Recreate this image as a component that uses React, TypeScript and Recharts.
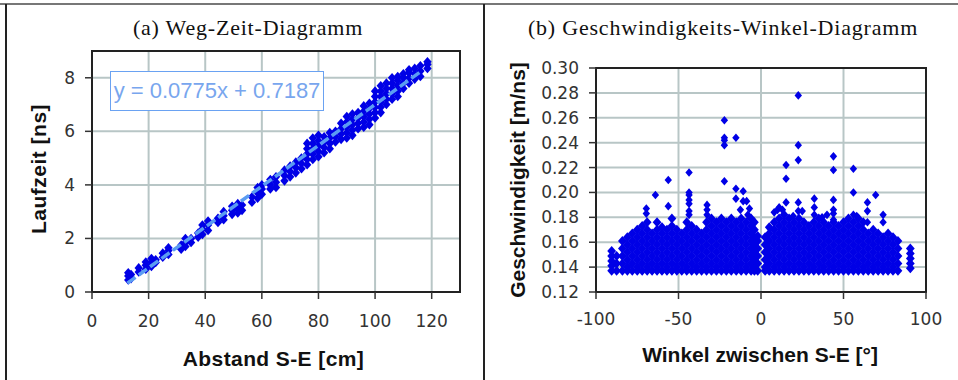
import React from 'react';
import { ScatterChart, Scatter, XAxis, YAxis, CartesianGrid, ReferenceArea } from 'recharts';

// ---------- Panel (a): Weg-Zeit-Diagramm ----------
const distanceTicks = [0, 20, 40, 60, 80, 100, 120];
const timeTicks = [0, 2, 4, 6, 8];

// [Abstand S-E (cm), Laufzeiten (ns)]
const distanceColumns: [number, number[]][] = [
  [12.8, [0.45, 0.6, 0.72]],
  [13.8, [0.5, 0.65]],
  [16.5, [0.75, 0.9]],
  [19, [0.85, 1.0, 1.12]],
  [21, [0.95, 1.1, 1.25]],
  [22.5, [1.1, 1.2]],
  [25, [1.3, 1.45]],
  [27, [1.4, 1.55, 1.65]],
  [31.5, [1.6, 1.75]],
  [33, [1.7, 1.85, 2.0]],
  [35, [1.85, 2.0]],
  [37.5, [2.05, 2.2]],
  [39, [2.15, 2.35, 2.5]],
  [41, [2.3, 2.5, 2.65]],
  [44.5, [2.6, 2.75]],
  [46.5, [2.7, 2.85, 3.0]],
  [49.5, [2.9, 3.05, 3.2]],
  [51.5, [2.95, 3.1, 3.3]],
  [53, [3.05, 3.25]],
  [56.5, [3.35, 3.55]],
  [58.5, [3.5, 3.7, 3.9]],
  [60, [3.65, 3.85, 4.0]],
  [63, [3.85, 4.0, 4.2]],
  [65, [3.9, 4.1, 4.3]],
  [68, [4.15, 4.35, 4.55]],
  [70, [4.3, 4.5, 4.7]],
  [72, [4.45, 4.65, 4.85]],
  [74, [4.6, 4.8, 5.0]],
  [76, [4.75, 4.95, 5.15, 5.35, 5.55]],
  [78, [4.95, 5.15, 5.35, 5.55, 5.75]],
  [80, [5.05, 5.25, 5.45, 5.65, 5.85]],
  [82, [5.2, 5.4, 5.6, 5.8]],
  [84, [5.35, 5.55, 5.75, 5.95]],
  [86, [5.6, 5.8, 6.0]],
  [88, [5.7, 5.9, 6.1, 6.3]],
  [90, [5.75, 5.95, 6.15, 6.35, 6.55]],
  [92, [5.85, 6.05, 6.25, 6.45, 6.65]],
  [94, [6.1, 6.3, 6.5, 6.7]],
  [96, [6.15, 6.35, 6.55, 6.75, 6.95]],
  [98, [6.25, 6.45, 6.65, 6.85, 7.05]],
  [100, [6.5, 6.7, 6.9, 7.1, 7.3, 7.5]],
  [102, [6.7, 6.9, 7.1, 7.3, 7.5, 7.7]],
  [104, [7.0, 7.2, 7.4, 7.6, 7.8]],
  [106, [7.2, 7.4, 7.6, 7.8, 8.0]],
  [108, [7.3, 7.5, 7.7, 7.9, 8.05]],
  [110, [7.6, 7.8, 8.0, 8.15]],
  [112, [7.8, 8.0, 8.2, 8.3]],
  [114, [7.95, 8.15, 8.35]],
  [116, [8.05, 8.25, 8.45]],
  [118.5, [8.35, 8.5, 8.6]],
];

// trend line end points as drawn
const trendLine = [
  { x: 12.5, y: 0.33 },
  { x: 116, y: 8.22 },
];
const equationText = 'y = 0.0775x + 0.7187';

// ---------- Panel (b): Geschwindigkeits-Winkel-Diagramm ----------
const angleTicks = [-100, -50, 0, 50, 100];
const speedTicks = [0.12, 0.14, 0.16, 0.18, 0.2, 0.22, 0.24, 0.26, 0.28, 0.3];

// [Winkel (°), Geschwindigkeiten (m/ns)]
const angleColumns: [number, number[]][] = [
  [-90.5, [0.137, 0.141, 0.145, 0.149, 0.153]],
  [-87.5, [0.137, 0.143, 0.149]],
  [-84, [0.137, 0.143, 0.149, 0.155, 0.161]],
  [-81, [0.137, 0.14, 0.146, 0.152, 0.158, 0.164]],
  [-78, [0.137, 0.143, 0.149, 0.155, 0.161, 0.167]],
  [-75, [0.137, 0.14, 0.146, 0.152, 0.158, 0.164, 0.17]],
  [-72, [0.137, 0.143, 0.149, 0.155, 0.161, 0.167, 0.173]],
  [-69, [0.137, 0.14, 0.146, 0.152, 0.158, 0.164, 0.17, 0.176]],
  [-66, [0.137, 0.143, 0.149, 0.155, 0.161, 0.167]],
  [-63, [0.137, 0.14, 0.146, 0.152, 0.158, 0.164, 0.17, 0.176]],
  [-60, [0.137, 0.143, 0.149, 0.155, 0.161, 0.167, 0.172]],
  [-57, [0.137, 0.14, 0.146, 0.152, 0.158, 0.164, 0.17]],
  [-54, [0.137, 0.143, 0.149, 0.155, 0.161, 0.167, 0.173, 0.179]],
  [-51, [0.137, 0.14, 0.146, 0.152, 0.158, 0.164, 0.17]],
  [-48, [0.137, 0.143, 0.149, 0.155, 0.161, 0.167]],
  [-45, [0.137, 0.14, 0.146, 0.152, 0.158, 0.164, 0.17, 0.176]],
  [-42, [0.137, 0.143, 0.149, 0.155, 0.161, 0.167, 0.173]],
  [-39, [0.137, 0.14, 0.146, 0.152, 0.158, 0.164, 0.17]],
  [-36, [0.137, 0.143, 0.149, 0.155, 0.161, 0.167]],
  [-33, [0.137, 0.14, 0.146, 0.152, 0.158, 0.164, 0.17, 0.176]],
  [-30, [0.137, 0.143, 0.149, 0.155, 0.161, 0.167, 0.173, 0.179]],
  [-27, [0.137, 0.14, 0.146, 0.152, 0.158, 0.164, 0.17, 0.176]],
  [-24, [0.137, 0.143, 0.149, 0.155, 0.161, 0.167, 0.173, 0.179]],
  [-21, [0.137, 0.14, 0.146, 0.152, 0.158, 0.164, 0.17, 0.176]],
  [-18, [0.137, 0.143, 0.149, 0.155, 0.161, 0.167, 0.173, 0.179]],
  [-15, [0.137, 0.14, 0.146, 0.152, 0.158, 0.164, 0.17, 0.176]],
  [-12, [0.137, 0.143, 0.149, 0.155, 0.161, 0.167, 0.173, 0.179]],
  [-9, [0.137, 0.14, 0.146, 0.152, 0.158, 0.164, 0.17, 0.176]],
  [-6, [0.137, 0.143, 0.149, 0.155, 0.161, 0.167, 0.173, 0.179]],
  [-4, [0.137, 0.14, 0.146, 0.152, 0.158, 0.164, 0.17, 0.176]],
  [-2, [0.137, 0.143, 0.149, 0.155, 0.161, 0.165]],
  [2.5, [0.137, 0.14, 0.146, 0.152, 0.158, 0.164]],
  [5, [0.137, 0.143, 0.149, 0.155, 0.161, 0.167, 0.172]],
  [8, [0.137, 0.14, 0.146, 0.152, 0.158, 0.164, 0.17, 0.176]],
  [11, [0.137, 0.143, 0.149, 0.155, 0.161, 0.167, 0.173, 0.179]],
  [14, [0.137, 0.14, 0.146, 0.152, 0.158, 0.164, 0.17, 0.176, 0.182]],
  [17, [0.137, 0.143, 0.149, 0.155, 0.161, 0.167, 0.173, 0.179]],
  [20, [0.137, 0.14, 0.146, 0.152, 0.158, 0.164, 0.17, 0.176]],
  [23, [0.137, 0.143, 0.149, 0.155, 0.161, 0.167, 0.173, 0.179]],
  [26, [0.137, 0.14, 0.146, 0.152, 0.158, 0.164, 0.17, 0.176]],
  [29, [0.137, 0.143, 0.149, 0.155, 0.161, 0.167, 0.173]],
  [32, [0.137, 0.14, 0.146, 0.152, 0.158, 0.164, 0.17, 0.176]],
  [35, [0.137, 0.143, 0.149, 0.155, 0.161, 0.167, 0.173, 0.179]],
  [38, [0.137, 0.14, 0.146, 0.152, 0.158, 0.164, 0.17, 0.176]],
  [41, [0.137, 0.143, 0.149, 0.155, 0.161, 0.167, 0.173]],
  [44, [0.137, 0.14, 0.146, 0.152, 0.158, 0.164, 0.17, 0.176]],
  [47, [0.137, 0.143, 0.149, 0.155, 0.161, 0.167, 0.173]],
  [50, [0.137, 0.14, 0.146, 0.152, 0.158, 0.164, 0.17, 0.176]],
  [53, [0.137, 0.143, 0.149, 0.155, 0.161, 0.167, 0.173, 0.179]],
  [56, [0.137, 0.14, 0.146, 0.152, 0.158, 0.164, 0.17, 0.176]],
  [59, [0.137, 0.143, 0.149, 0.155, 0.161, 0.167, 0.173, 0.179]],
  [62, [0.137, 0.14, 0.146, 0.152, 0.158, 0.164, 0.17, 0.176]],
  [65, [0.137, 0.143, 0.149, 0.155, 0.161, 0.167]],
  [68, [0.137, 0.14, 0.146, 0.152, 0.158, 0.164, 0.17]],
  [71, [0.137, 0.143, 0.149, 0.155, 0.161, 0.167]],
  [74, [0.137, 0.14, 0.146, 0.152, 0.158, 0.164]],
  [77, [0.137, 0.143, 0.149, 0.155, 0.161, 0.167]],
  [80, [0.137, 0.14, 0.146, 0.152, 0.158, 0.164]],
  [83, [0.137, 0.143, 0.149, 0.155, 0.161]],
  [90.5, [0.139, 0.143, 0.147, 0.151, 0.155]],
];

const angleOutliers: [number, number][] = [
  [-69.5, 0.183], [-69.5, 0.187],
  [-64, 0.198],
  [-56.2, 0.189], [-56.2, 0.21],
  [-43.6, 0.182], [-43.6, 0.185], [-43.6, 0.191], [-43.6, 0.194], [-43.6, 0.198], [-43.6, 0.2], [-43.6, 0.216],
  [-32.7, 0.182], [-32.7, 0.186], [-32.7, 0.19],
  [-22.2, 0.209], [-22.2, 0.238], [-22.2, 0.242], [-22.2, 0.244], [-22.2, 0.258],
  [-15.2, 0.195], [-15.2, 0.203], [-15.2, 0.244],
  [-12.5, 0.186], [-10.8, 0.193], [-10.8, 0.201],
  [-8.7, 0.193], [-8, 0.182], [-7, 0.187],
  [8, 0.184], [10, 0.186], [11, 0.188], [13, 0.186],
  [15.2, 0.192], [15.2, 0.211], [15.2, 0.222],
  [19.5, 0.181],
  [22.6, 0.185], [22.6, 0.192], [22.6, 0.226], [22.6, 0.238], [22.6, 0.278],
  [25, 0.185],
  [32.3, 0.182], [32.3, 0.188], [32.3, 0.195],
  [37, 0.18], [40, 0.182],
  [43.9, 0.178], [43.9, 0.183], [43.9, 0.186], [43.9, 0.194], [43.9, 0.218], [43.9, 0.229],
  [56, 0.182], [56, 0.2], [56, 0.219],
  [58, 0.181],
  [64.5, 0.176], [64.5, 0.185], [64.5, 0.192],
  [69.5, 0.198],
  [74, 0.176], [74, 0.182],
];

// ---------- derived point tables ----------
const distancePoints = distanceColumns.flatMap(([x, ys]) => ys.map((y) => ({ x, y })));
const angleDensePoints = angleColumns.flatMap(([x, ys]) => ys.map((y) => ({ x, y })));
const angleOutlierPoints = angleOutliers.map(([x, y]) => ({ x, y }));

const MARK = '#0000e6';
const makeDiamond = (hw: number, hh: number) => (p: any) => {
  const { cx, cy } = p;
  if (cx == null || cy == null) return <g />;
  return (
    <polygon
      points={`${cx},${cy - hh} ${cx + hw},${cy} ${cx},${cy + hh} ${cx - hw},${cy}`}
      fill={MARK}
    />
  );
};
const DenseDiamond = makeDiamond(4.4, 5);
const LeftDiamond = makeDiamond(4.2, 4.8);
const Diamond = makeDiamond(3.7, 4.3);
const NoMark = () => <g />;

const tickStyle = { fontSize: 17, fill: '#333', fontFamily: '"DejaVu Sans", Verdana, sans-serif' };
const axisLineStyle = { stroke: '#222', strokeWidth: 2 };
const tickLineStyle = { stroke: '#333', strokeWidth: 1.5 };
const GRID = '#b8c6c6';

const titleStyle: React.CSSProperties = {
  position: 'absolute',
  width: 400,
  textAlign: 'center',
  fontFamily: '"Liberation Serif", "Times New Roman", serif',
  fontSize: 22,
  lineHeight: '24px',
  letterSpacing: 0.8,
  color: '#111',
  whiteSpace: 'nowrap',
};
const axisTitleStyle: React.CSSProperties = {
  position: 'absolute',
  width: 300,
  height: 24,
  textAlign: 'center',
  fontFamily: '"Liberation Sans", Arial, sans-serif',
  fontWeight: 'bold',
  fontSize: 21,
  lineHeight: '24px',
  color: '#111',
  whiteSpace: 'nowrap',
};

export default function App() {
  return (
    <div
      style={{
        position: 'absolute',
        left: 0,
        top: 0,
        width: 958,
        height: 380,
        background: '#fff',
        overflow: 'hidden',
      }}
    >
      {/* frame */}
      <div style={{ position: 'absolute', left: 0, top: 2.5, width: 958, height: 2, background: '#777' }} />
      <div style={{ position: 'absolute', left: 5, top: 4, width: 1.5, height: 376, background: '#222' }} />
      <div style={{ position: 'absolute', left: 483, top: 4, width: 1.5, height: 376, background: '#222' }} />

      {/* panel (a) */}
      <div style={{ position: 'absolute', left: 0, top: 0 }}>
        <ScatterChart width={480} height={380} margin={{ top: 51, right: 20, bottom: 48, left: 32 }}>
          <CartesianGrid stroke={GRID} strokeWidth={2} />
          <XAxis
            type="number"
            dataKey="x"
            domain={[0, 130]}
            ticks={distanceTicks}
            interval={0}
            allowDataOverflow
            height={40}
            tickSize={7}
            tickMargin={16}
            tick={tickStyle}
            axisLine={axisLineStyle}
            tickLine={tickLineStyle}
          />
          <YAxis
            type="number"
            dataKey="y"
            domain={[0, 9]}
            ticks={timeTicks}
            interval={0}
            allowDataOverflow
            width={60}
            tickSize={7}
            tickMargin={10}
            tick={tickStyle}
            axisLine={axisLineStyle}
            tickLine={tickLineStyle}
          />
          <ReferenceArea x1={0} x2={130} y1={0} y2={9} fill="none" stroke="#222" strokeWidth={2} />
          <Scatter data={distancePoints} shape={LeftDiamond} isAnimationActive={false} />
          <Scatter
            data={trendLine}
            shape={NoMark}
            line={{ stroke: '#5b9cf2', strokeWidth: 3.5, strokeDasharray: '10 4' }}
            isAnimationActive={false}
          />
        </ScatterChart>
      </div>

      {/* panel (b) */}
      <div style={{ position: 'absolute', left: 480, top: 0 }}>
        <ScatterChart width={478} height={380} margin={{ top: 68, right: 32, bottom: 48, left: 56 }}>
          <CartesianGrid stroke={GRID} strokeWidth={2} />
          <XAxis
            type="number"
            dataKey="x"
            domain={[-100, 100]}
            ticks={angleTicks}
            interval={0}
            allowDataOverflow
            height={40}
            tickSize={7}
            tickMargin={14}
            tick={tickStyle}
            axisLine={axisLineStyle}
            tickLine={tickLineStyle}
          />
          <YAxis
            type="number"
            dataKey="y"
            domain={[0.12, 0.3]}
            ticks={speedTicks}
            interval={0}
            allowDataOverflow
            width={60}
            tickSize={7}
            tickMargin={10}
            tick={tickStyle}
            tickFormatter={(v: number) => v.toFixed(2)}
            axisLine={axisLineStyle}
            tickLine={tickLineStyle}
          />
          <ReferenceArea x1={-100} x2={100} y1={0.12} y2={0.3} fill="none" stroke="#222" strokeWidth={2} />
          <Scatter data={angleDensePoints} shape={DenseDiamond} isAnimationActive={false} />
          <Scatter data={angleOutlierPoints} shape={Diamond} isAnimationActive={false} />
        </ScatterChart>
      </div>

      {/* titles */}
      <div style={{ ...titleStyle, left: 48, top: 15.5 }}>(a) Weg-Zeit-Diagramm</div>
      <div style={{ ...titleStyle, left: 523, top: 15.5 }}>(b) Geschwindigkeits-Winkel-Diagramm</div>

      {/* equation label */}
      <div
        style={{
          position: 'absolute',
          left: 110,
          top: 71,
          width: 214,
          height: 40,
          boxSizing: 'border-box',
          border: '1.5px solid #6aa2f2',
          background: '#fff',
          color: '#78a6ee',
          fontFamily: '"Liberation Sans", Arial, sans-serif',
          fontSize: 22,
          lineHeight: '37px',
          textAlign: 'center',
          whiteSpace: 'nowrap',
        }}
      >
        {equationText}
      </div>

      {/* axis titles */}
      <div style={{ ...axisTitleStyle, left: 123.5, top: 347, letterSpacing: 0.4 }}>Abstand S-E [cm]</div>
      <div
        style={{ ...axisTitleStyle, left: -110.6, top: 157, letterSpacing: 0.5, transform: 'rotate(-90deg)' }}
      >
        Laufzeit [ns]
      </div>
      <div style={{ ...axisTitleStyle, left: 610, top: 342.5 }}>Winkel zwischen S-E [°]</div>
      <div style={{ ...axisTitleStyle, left: 368.4, top: 168, transform: 'rotate(-90deg)' }}>
        Geschwindigkeit [m/ns]
      </div>
    </div>
  );
}
